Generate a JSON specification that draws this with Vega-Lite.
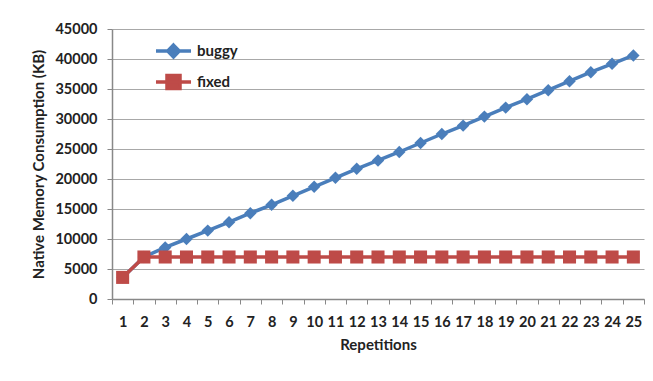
{
  "$schema": "https://vega.github.io/schema/vega-lite/v6.json",
  "width": 532,
  "height": 270,
  "autosize": "none",
  "padding": {"left": 112, "top": 29, "right": 9, "bottom": 82},
  "background": "white",
  "config": {
    "view": {"stroke": null},
    "font": "Lato",
    "axis": {"labelFont": "Lato", "titleFont": "Lato", "labelFontWeight": "bold", "titleFontWeight": "bold", "labelColor": "#222", "titleColor": "#222", "labelFontSize": 14.5, "titleFontSize": 15}
  },
  "data": {"values": [
    {"rep": 1, "series": "buggy", "value": 3600},
    {"rep": 2, "series": "buggy", "value": 7000},
    {"rep": 3, "series": "buggy", "value": 8600},
    {"rep": 4, "series": "buggy", "value": 10000},
    {"rep": 5, "series": "buggy", "value": 11400},
    {"rep": 6, "series": "buggy", "value": 12800},
    {"rep": 7, "series": "buggy", "value": 14300},
    {"rep": 8, "series": "buggy", "value": 15700},
    {"rep": 9, "series": "buggy", "value": 17200},
    {"rep": 10, "series": "buggy", "value": 18700},
    {"rep": 11, "series": "buggy", "value": 20200},
    {"rep": 12, "series": "buggy", "value": 21700},
    {"rep": 13, "series": "buggy", "value": 23100},
    {"rep": 14, "series": "buggy", "value": 24500},
    {"rep": 15, "series": "buggy", "value": 26000},
    {"rep": 16, "series": "buggy", "value": 27500},
    {"rep": 17, "series": "buggy", "value": 28900},
    {"rep": 18, "series": "buggy", "value": 30400},
    {"rep": 19, "series": "buggy", "value": 31900},
    {"rep": 20, "series": "buggy", "value": 33300},
    {"rep": 21, "series": "buggy", "value": 34800},
    {"rep": 22, "series": "buggy", "value": 36300},
    {"rep": 23, "series": "buggy", "value": 37800},
    {"rep": 24, "series": "buggy", "value": 39200},
    {"rep": 25, "series": "buggy", "value": 40600},
    {"rep": 1, "series": "fixed", "value": 3600},
    {"rep": 2, "series": "fixed", "value": 7000},
    {"rep": 3, "series": "fixed", "value": 7000},
    {"rep": 4, "series": "fixed", "value": 7000},
    {"rep": 5, "series": "fixed", "value": 7000},
    {"rep": 6, "series": "fixed", "value": 7000},
    {"rep": 7, "series": "fixed", "value": 7000},
    {"rep": 8, "series": "fixed", "value": 7000},
    {"rep": 9, "series": "fixed", "value": 7000},
    {"rep": 10, "series": "fixed", "value": 7000},
    {"rep": 11, "series": "fixed", "value": 7000},
    {"rep": 12, "series": "fixed", "value": 7000},
    {"rep": 13, "series": "fixed", "value": 7000},
    {"rep": 14, "series": "fixed", "value": 7000},
    {"rep": 15, "series": "fixed", "value": 7000},
    {"rep": 16, "series": "fixed", "value": 7000},
    {"rep": 17, "series": "fixed", "value": 7000},
    {"rep": 18, "series": "fixed", "value": 7000},
    {"rep": 19, "series": "fixed", "value": 7000},
    {"rep": 20, "series": "fixed", "value": 7000},
    {"rep": 21, "series": "fixed", "value": 7000},
    {"rep": 22, "series": "fixed", "value": 7000},
    {"rep": 23, "series": "fixed", "value": 7000},
    {"rep": 24, "series": "fixed", "value": 7000},
    {"rep": 25, "series": "fixed", "value": 7000}
  ]},
  "encoding": {
    "x": {
      "field": "rep", "type": "ordinal",
      "scale": {"type": "band", "paddingInner": 0, "paddingOuter": 0},
      "axis": {"title": "Repetitions", "labelAngle": 0, "tickBand": "extent", "tickSize": 5, "tickColor": "#888", "domainColor": "#888", "domainWidth": 1.5, "tickWidth": 1, "labelPadding": 11, "titlePadding": 9, "grid": false}
    },
    "y": {
      "field": "value", "type": "quantitative",
      "scale": {"domain": [0, 45000]},
      "axis": {"title": "Native Memory Consumption (KB)", "format": "d", "values": [0, 5000, 10000, 15000, 20000, 25000, 30000, 35000, 40000, 45000], "tickSize": 5, "tickColor": "#888", "domainColor": "#888", "domainWidth": 1.5, "gridColor": "#a8a8a8", "gridWidth": 1, "labelPadding": 10, "titlePadding": 8}
    },
    "color": {
      "field": "series", "type": "nominal",
      "scale": {"domain": ["buggy", "fixed"], "range": ["#4a7ebb", "#be4b48"]},
      "legend": {
        "title": null, "orient": "none", "legendX": 44, "legendY": 4.5,
        "padding": 0, "symbolSize": 961, "symbolStrokeWidth": 3.5, "rowPadding": 0,
        "labelOffset": 6, "labelFont": "Lato", "labelFontWeight": "bold", "labelFontSize": 15, "labelColor": "#222",
        "symbolType": "M-1,0H1",
        "encode": {"symbols": {"update": {
          "shape": {"signal": "datum.value === 'buggy' ? 'M-1.13,0H1.13M0,-0.38L0.37,0L0,0.38L-0.37,0Z' : 'M-1.13,0H1.13M-0.42,-0.42H0.42V0.42H-0.42Z'"},
          "strokeWidth": {"value": 3.5}
        }}}
      }
    }
  },
  "layer": [
    {"mark": {"type": "line", "strokeWidth": 3.5}},
    {"transform": [{"filter": "datum.series === 'buggy'"}], "mark": {"type": "point", "shape": "diamond", "filled": true, "opacity": 1, "size": 155}},
    {"transform": [{"filter": "datum.series === 'fixed'"}], "mark": {"type": "point", "shape": "square", "filled": true, "opacity": 1, "size": 170}}
  ]
}
